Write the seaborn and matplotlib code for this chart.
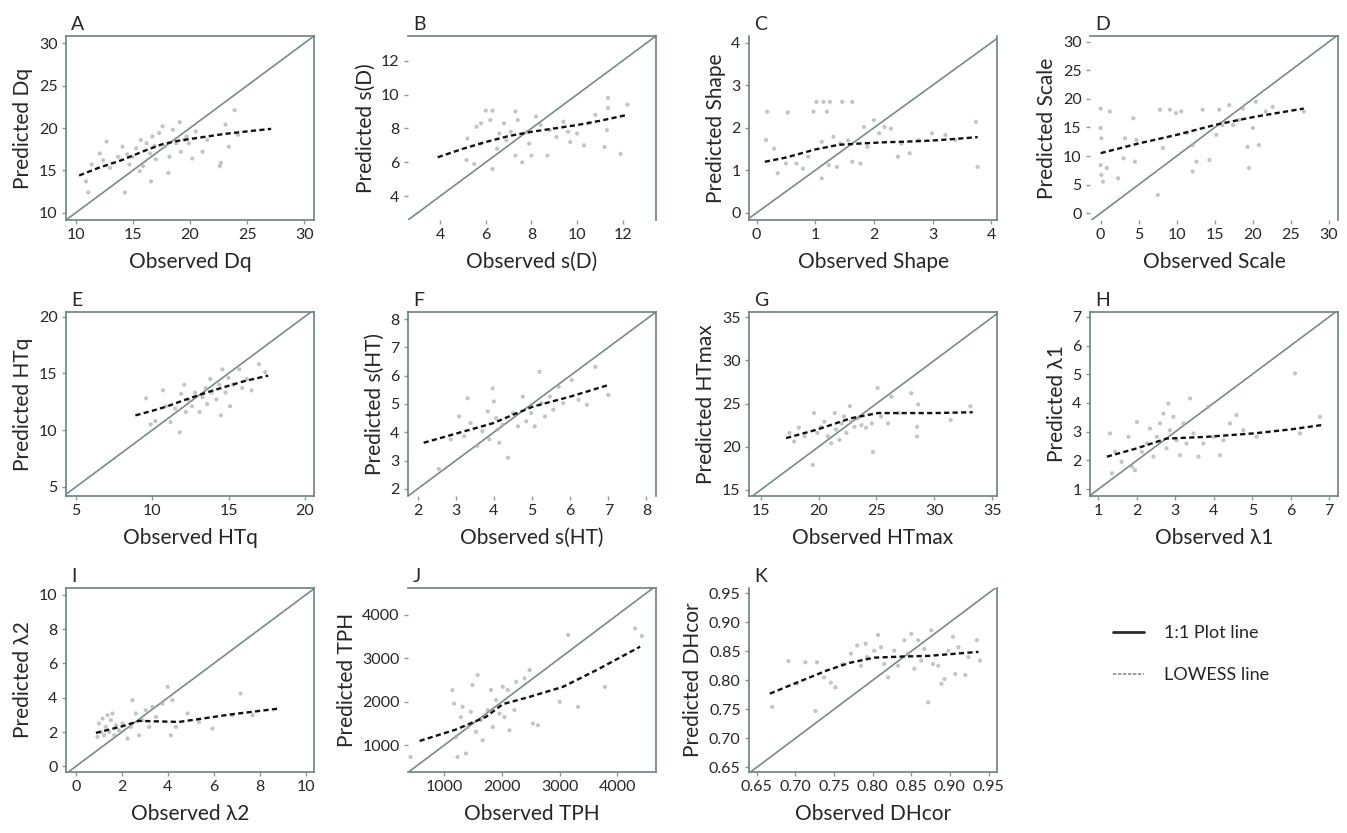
# predicted vs observed grid (1:1 line + LOWESS) for 11 stand attributes

import numpy as np
import pandas as pd
import matplotlib
matplotlib.use("Agg")
from matplotlib import pyplot as plt
from matplotlib.lines import Line2D
from matplotlib.ticker import FormatStrFormatter
import seaborn as sns

sns.set_style("white")
plt.rcParams['font.family'] = ['Lato', 'DejaVu Sans']

# ---- data ----
dq_obs = [11.1, 10.9, 11.4, 12.1, 12.7, 13.0, 13.7, 14.1, 14.3, 14.7, 15.0, 15.3, 15.6, 15.9, 16.2, 16.5, 16.6, 16.7,
          17.0, 17.3, 17.6, 17.8, 18.1, 18.2, 18.5, 18.8, 19.1, 19.2, 19.7, 19.9, 20.2, 20.5, 21.1, 21.5, 22.6, 22.7,
          23.1, 23.4, 23.9, 24.2, 15.7, 12.4, 14.5, 16.9, 19.5]
dq_pred = [12.4, 13.7, 15.7, 17.0, 18.4, 15.3, 16.6, 17.8, 12.4, 15.7, 16.6, 17.6, 14.9, 15.5, 18.2, 17.0, 13.7, 19.0,
           16.3, 19.4, 20.2, 17.8, 14.7, 16.6, 19.8, 18.2, 20.7, 17.2, 19.0, 18.2, 16.4, 19.6, 17.2, 18.6, 15.5, 15.9,
           20.4, 17.8, 22.1, 19.2, 18.6, 16.2, 16.9, 17.9, 18.6]
dq_low_x = [10.3, 12, 14, 16, 17.6, 19, 20.5, 23, 25, 27.1]
dq_low_y = [14.4, 15.3, 16.2, 17.3, 18.1, 18.5, 18.8, 19.3, 19.6, 19.9]

sd_obs = [5.16, 5.5, 5.2, 5.6, 6.0, 6.3, 6.2, 5.8, 6.3, 6.5, 6.6, 6.9, 7.1, 7.3, 7.4, 7.3, 7.6, 7.8, 7.9, 8.2,
          8.4, 8.0, 8.7, 8.8, 9.1, 9.4, 9.6, 9.7, 10.0, 10.3, 10.5, 10.8, 11.2, 11.35, 11.35, 11.3, 11.9, 12.2, 5.8, 6.8]
sd_pred = [6.14, 5.9, 7.4, 8.1, 9.05, 9.05, 8.5, 7.1, 5.6, 6.8, 7.7, 7.3, 7.8, 9.0, 8.5, 6.4, 6.0, 7.8, 7.1, 8.7,
           8.2, 6.4, 6.4, 7.9, 7.5, 8.4, 7.8, 7.2, 7.7, 7.0, 8.3, 8.8, 6.9, 9.8, 9.2, 7.9, 6.5, 9.4, 8.3, 8.3]
sd_low_x = [3.9, 5, 6, 7, 8, 9, 10, 11, 12.2]
sd_low_y = [6.3, 6.8, 7.2, 7.55, 7.8, 8.0, 8.2, 8.45, 8.8]

shape_obs = [0.16, 0.18, 0.3, 0.36, 0.5, 0.53, 0.68, 0.79, 0.88, 0.97, 1.02, 1.11, 1.14, 1.2, 1.23, 1.25, 1.31, 1.37,
             1.46, 1.43, 1.63, 1.63, 1.77, 1.83, 1.89, 2.0, 2.09, 2.18, 2.29, 2.41, 2.47, 2.61, 2.76, 2.99, 3.22, 3.39,
             3.74, 3.77, 1.11, 1.56]
shape_pred = [1.71, 2.38, 1.51, 0.93, 1.16, 2.36, 1.16, 1.04, 1.32, 2.38, 2.61, 1.67, 2.61, 2.38, 1.12, 2.61, 1.79, 1.08,
              2.61, 1.63, 2.61, 1.2, 1.16, 2.02, 1.55, 2.18, 1.87, 2.02, 1.98, 1.32, 1.63, 1.4, 1.71, 1.87, 1.83, 1.71,
              2.14, 1.08, 0.81, 1.7]
shape_low_x = [0.14, 0.5, 1.0, 1.4, 1.77, 2.2, 2.47, 3.0, 3.4, 3.77]
shape_low_y = [1.2, 1.3, 1.49, 1.6, 1.63, 1.66, 1.67, 1.7, 1.74, 1.78]

scale_obs = [0, 0, 0.1, 0, 0.1, 0.3, 0.8, 1.2, 2.3, 3.0, 3.2, 4.3, 4.5, 4.7, 7.5, 7.8, 8.2, 9.1, 9.9, 10.6,
             11.3, 12.1, 12.1, 12.6, 13.4, 14.3, 15.2, 15.6, 16.0, 16.9, 17.4, 18.2, 18.7, 19.3, 19.5, 20.0, 20.4,
             20.8, 21.7, 22.6, 26.7]
scale_pred = [18.3, 14.9, 13.1, 8.4, 6.7, 5.5, 7.9, 17.8, 6.1, 9.6, 13.1, 16.6, 9.0, 12.8, 3.2, 18.1, 11.4, 18.1,
              17.5, 17.8, 14.0, 11.9, 7.3, 9.0, 18.1, 9.3, 13.7, 18.1, 15.4, 18.9, 15.4, 16.3, 18.3, 11.6, 7.9, 14.9,
              19.5, 11.9, 17.8, 18.6, 17.8]
scale_low_x = [0, 5, 10, 15.2, 20.4, 26.7]
scale_low_y = [10.5, 12.2, 13.7, 15.5, 16.9, 18.3]

htq_obs = [9.6, 9.9, 10.2, 10.7, 10.9, 11.2, 11.5, 11.8, 11.9, 12.1, 12.2, 12.4, 12.6, 12.8, 13.1, 13.3, 13.5, 13.6,
           13.8, 13.9, 14.2, 14.4, 14.5, 14.6, 14.8, 15.0, 15.1, 15.3, 15.7, 15.9, 16.2, 16.5, 17.0, 17.4]
htq_pred = [12.8, 10.5, 10.8, 13.5, 12.1, 10.7, 11.9, 9.8, 13.2, 14.0, 11.6, 12.6, 12.1, 13.3, 11.6, 12.9, 13.7, 12.3,
            14.5, 13.3, 12.7, 14.0, 11.3, 15.35, 13.3, 14.6, 12.1, 14.0, 15.35, 13.7, 14.5, 13.5, 15.8, 15.1]
htq_low_x = [8.9, 10, 11, 12, 13.1, 14, 15, 16, 17.6]
htq_low_y = [11.3, 11.7, 12.1, 12.6, 13.1, 13.5, 13.9, 14.3, 14.8]

sht_obs = [2.56, 2.87, 3.09, 3.31, 3.22, 3.39, 3.57, 3.7, 3.84, 3.88, 3.97, 4.0, 4.06, 4.1, 4.14, 4.23, 4.37, 4.5,
           4.63, 4.76, 4.85, 4.98, 5.07, 5.2, 5.25, 5.34, 5.47, 5.56, 5.7, 5.82, 6.04, 6.22, 6.44, 6.66, 7.0]
sht_pred = [2.7, 3.75, 4.56, 5.2, 3.86, 4.33, 3.52, 4.04, 4.74, 3.75, 5.55, 5.09, 4.5, 4.1, 3.63, 4.27, 3.1, 4.68,
            4.21, 5.26, 4.39, 4.68, 4.21, 6.14, 5.03, 4.56, 5.26, 4.8, 5.61, 5.03, 5.85, 5.15, 4.97, 6.31, 5.32]
sht_low_x = [2.16, 3, 4.0, 4.5, 5.03, 6.0, 7.0]
sht_low_y = [3.63, 3.95, 4.33, 4.62, 4.91, 5.26, 5.67]

htmax_obs = [17.5, 17.9, 18.3, 18.8, 19.5, 19.6, 19.9, 20.2, 20.5, 20.8, 21.1, 21.4, 21.5, 21.8, 22.0, 22.2, 22.4,
             22.7, 22.8, 23.1, 23.4, 23.7, 24.1, 24.6, 24.7, 25.1, 25.4, 26.0, 26.3, 26.9, 28.0, 28.5, 28.5, 28.6,
             31.4, 33.1]
htmax_pred = [21.6, 20.6, 22.2, 21.2, 17.9, 23.9, 21.6, 22.3, 22.9, 21.2, 20.4, 23.9, 22.0, 20.8, 22.7, 23.5, 21.6,
              24.7, 22.9, 22.3, 23.3, 22.5, 22.2, 22.7, 19.4, 26.8, 23.5, 22.7, 25.8, 23.9, 26.2, 22.3, 21.2, 24.9,
              23.1, 24.7]
htmax_low_x = [17.2, 19.9, 22.8, 25.1, 26.6, 30, 33.3]
htmax_low_y = [21.0, 22.0, 23.3, 23.9, 23.9, 23.9, 24.0]

l1_obs = [1.3, 1.35, 1.43, 1.6, 1.78, 1.87, 1.95, 2.0, 2.13, 2.26, 2.34, 2.43, 2.52, 2.6, 2.69, 2.77, 2.82, 2.86,
          2.95, 3.03, 3.12, 3.21, 3.29, 3.38, 3.47, 3.6, 3.73, 3.86, 3.99, 4.16, 4.25, 4.42, 4.59, 4.77, 5.11, 6.11,
          6.24, 6.76]
l1_pred = [2.94, 1.55, 2.3, 1.95, 2.82, 1.78, 1.66, 3.34, 2.3, 2.59, 3.11, 2.13, 2.82, 3.29, 3.63, 2.42, 3.98, 3.05,
           3.52, 2.7, 2.18, 3.29, 2.59, 4.16, 2.94, 2.13, 2.59, 3.87, 2.82, 2.18, 2.7, 3.29, 3.58, 3.05, 2.82, 5.03,
           2.94, 3.52]
l1_low_x = [1.22, 2.0, 2.77, 3.8, 5.03, 6.0, 6.8]
l1_low_y = [2.13, 2.42, 2.76, 2.82, 2.94, 3.08, 3.23]

l2_obs = [0.94, 1.01, 1.09, 1.16, 1.23, 1.3, 1.38, 1.45, 1.52, 1.59, 1.67, 1.74, 1.88, 2.03, 2.25, 2.39, 2.46, 2.61,
          2.75, 2.9, 3.04, 3.19, 3.33, 3.48, 3.77, 3.99, 4.13, 4.2, 4.35, 4.86, 5.36, 5.94, 7.17, 6.81, 7.68]
l2_pred = [1.72, 2.5, 2.0, 2.79, 1.81, 2.3, 2.98, 2.0, 2.69, 3.08, 1.81, 2.4, 2.1, 2.5, 1.62, 2.3, 3.86, 3.08,
           1.81, 2.69, 3.27, 2.3, 3.47, 2.88, 3.66, 4.64, 1.81, 3.86, 2.3, 3.08, 2.59, 2.2, 4.25, 2.98, 2.98]
l2_low_x = [0.87, 2.03, 2.75, 4.49, 6.81, 8.84]
l2_low_y = [1.95, 2.34, 2.65, 2.59, 3.04, 3.37]

tph_obs = [420, 1145, 1174, 1203, 1232, 1290, 1319, 1377, 1406, 1464, 1493, 1551, 1580, 1638, 1667, 1754, 1812, 1841,
           1900, 1958, 2016, 2045, 2103, 2132, 2219, 2248, 2393, 2480, 2538, 2625, 3002, 3147, 3321, 3786, 4308, 4424]
tph_pred = [730, 2270, 1960, 1190, 730, 1650, 1885, 810, 1420, 1770, 2385, 1310, 2615, 1580, 1115, 1810, 2270, 1420,
            2040, 1730, 2345, 1650, 2270, 1345, 1810, 2460, 2540, 2730, 1500, 1460, 2000, 3540, 1885, 2345, 3690, 3515]
tph_low_x = [576, 1200, 1725, 2016, 2480, 3060, 3641, 4395]
tph_low_y = [1100, 1360, 1654, 1946, 2115, 2346, 2731, 3270]

dh_obs = [0.67, 0.691, 0.702, 0.713, 0.726, 0.728, 0.737, 0.746, 0.752, 0.761, 0.772, 0.78, 0.785, 0.791, 0.793,
          0.802, 0.807, 0.811, 0.815, 0.82, 0.828, 0.833, 0.841, 0.846, 0.85, 0.854, 0.859, 0.863, 0.867, 0.872,
          0.876, 0.878, 0.885, 0.889, 0.893, 0.898, 0.904, 0.907, 0.911, 0.92, 0.924, 0.935, 0.939]
dh_pred = [0.754, 0.833, 0.794, 0.831, 0.747, 0.831, 0.805, 0.796, 0.788, 0.828, 0.846, 0.86, 0.825, 0.863, 0.84,
           0.851, 0.878, 0.857, 0.828, 0.805, 0.851, 0.825, 0.869, 0.846, 0.88, 0.82, 0.869, 0.834, 0.854, 0.762,
           0.886, 0.828, 0.825, 0.794, 0.802, 0.851, 0.875, 0.811, 0.857, 0.809, 0.84, 0.869, 0.834]
dh_low_x = [0.667, 0.7, 0.741, 0.77, 0.802, 0.84, 0.872, 0.937]
dh_low_y = [0.777, 0.795, 0.817, 0.83, 0.839, 0.841, 0.842, 0.849]

# letter, name, obs, pred, lowess x, lowess y, xlim, ylim, ticks, visible spines
panels = [
    ('A', 'Dq', dq_obs, dq_pred, dq_low_x, dq_low_y, (9.15, 30.85), (9.15, 30.85), [10, 15, 20, 25, 30], 'lrtb'),
    ('B', 's(D)', sd_obs, sd_pred, sd_low_x, sd_low_y, (2.6, 13.45), (2.6, 13.45), [4, 6, 8, 10, 12], 'tr'),
    ('C', 'Shape', shape_obs, shape_pred, shape_low_x, shape_low_y, (-0.13, 4.1), (-0.17, 4.16), [0, 1, 2, 3, 4], 'lbr'),
    ('D', 'Scale', scale_obs, scale_pred, scale_low_x, scale_low_y, (-1.4, 31.2), (-1.2, 31.0),
     [0, 5, 10, 15, 20, 25, 30], 'tr'),
    ('E', 'HTq', htq_obs, htq_pred, htq_low_x, htq_low_y, (4.35, 20.6), (4.2, 20.4), [5, 10, 15, 20], 'lrtb'),
    ('F', 's(HT)', sht_obs, sht_pred, sht_low_x, sht_low_y, (1.75, 8.25), (1.75, 8.25), [2, 3, 4, 5, 6, 7, 8], 'ltr'),
    ('G', 'HTmax', htmax_obs, htmax_pred, htmax_low_x, htmax_low_y, (14.0, 35.4), (14.3, 35.6),
     [15, 20, 25, 30, 35], 'lrtb'),
    ('H', 'λ1', l1_obs, l1_pred, l1_low_x, l1_low_y, (0.78, 7.23), (0.76, 7.17), [1, 2, 3, 4, 5, 6, 7], 'lrtb'),
    ('I', 'λ2', l2_obs, l2_pred, l2_low_x, l2_low_y, (-0.43, 10.36), (-0.33, 10.4), [0, 2, 4, 6, 8, 10], 'lrtb'),
    ('J', 'TPH', tph_obs, tph_pred, tph_low_x, tph_low_y, (375, 4670), (385, 4620), [1000, 2000, 3000, 4000], 'trb'),
    ('K', 'DHcor', dh_obs, dh_pred, dh_low_x, dh_low_y, (0.64, 0.961), (0.642, 0.959),
     [0.65, 0.70, 0.75, 0.80, 0.85, 0.90, 0.95], 'lbr'),
]

W, H = 1347, 833
col_left = [66, 408, 749, 1090]
row_top = [36, 312, 588]
ax_w, ax_h = 248, 184

spine_col = '#6f7f7f'
text_col = '#262626'

fig = plt.figure(figsize=(W / 100, H / 100), dpi=100)

for i, (letter, name, obs, pred, lx, ly, xlim, ylim, ticks, sides) in enumerate(panels):
    r, c = divmod(i, 4)
    left, top = col_left[c], row_top[r]
    ax = fig.add_axes([left / W, 1 - (top + ax_h) / H, ax_w / W, ax_h / H])

    df = pd.DataFrame({'obs': obs, 'pred': pred})
    sns.scatterplot(data=df, x='obs', y='pred', ax=ax, s=9, color='#b0b0b0',
                    edgecolor='none', alpha=0.75, zorder=2)
    ax.axline((0, 0), slope=1, color='#7a8989', lw=1.2, zorder=1)
    low = pd.DataFrame({'x': lx, 'y': ly})
    sns.lineplot(data=low, x='x', y='y', ax=ax, color='#111111', lw=1.7,
                 linestyle=(0, (2.2, 1.4)), sort=True, zorder=3)

    ax.set_xlim(*xlim)
    ax.set_ylim(*ylim)
    ax.set_xticks(ticks)
    ax.set_yticks(ticks)
    if letter == 'K':
        ax.xaxis.set_major_formatter(FormatStrFormatter('%.2f'))
        ax.yaxis.set_major_formatter(FormatStrFormatter('%.2f'))

    ax.tick_params(axis='both', which='both', bottom=True, left=True, length=3,
                   width=1, color='#8a9a9a', labelsize=11.5, labelcolor=text_col, pad=3)
    for side, key in [('left', 'l'), ('right', 'r'), ('top', 't'), ('bottom', 'b')]:
        ax.spines[side].set_visible(key in sides)
        ax.spines[side].set_color(spine_col)
        ax.spines[side].set_linewidth(1.2)

    ax.set_xlabel(f'Observed {name}', fontsize=15, color=text_col, labelpad=7)
    ax.set_ylabel(f'Predicted {name}', fontsize=15, color=text_col, labelpad=4)
    ax.text(0.02, 1.015, letter, transform=ax.transAxes, ha='left', va='bottom',
            fontsize=14, color=text_col)

handles = [Line2D([], [], color='#2a2a2a', lw=2),
           Line2D([], [], color='#8a8a8a', lw=1.2, linestyle=(0, (2, 1)))]
fig.legend(handles, ['1:1 Plot line', 'LOWESS line'], loc='center left',
           bbox_to_anchor=(1097 / W, 1 - 654 / H), frameon=False, fontsize=13,
           handlelength=1.7, handletextpad=1.1, labelspacing=1.45, labelcolor=text_col)

plt.savefig('out.png', dpi=100)
